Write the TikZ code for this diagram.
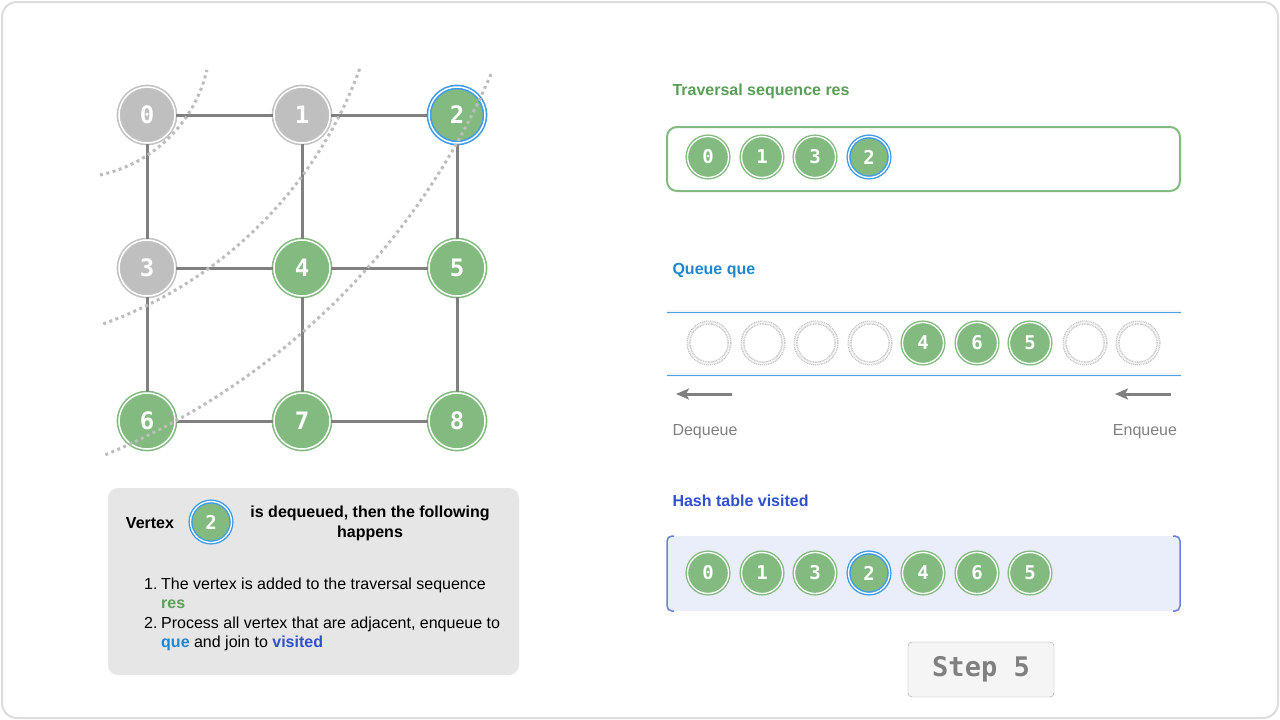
\documentclass[tikz,border=0pt]{standalone}
\usepackage{fontspec}
\setmainfont{Liberation Sans}
\newfontfamily\monof{DejaVu Sans Mono}
\usetikzlibrary{arrows.meta}
\definecolor{gfill}{HTML}{82BA80}
\definecolor{grayfill}{HTML}{BFBFBF}
\definecolor{grayring}{HTML}{C2C2C2}
\definecolor{bring}{HTML}{3D9BE9}
\definecolor{edgec}{HTML}{808080}
\definecolor{arcc}{HTML}{BDBDBD}
\definecolor{resc}{HTML}{5A9E58}
\definecolor{quec}{HTML}{1F86D0}
\definecolor{quel}{HTML}{4AA3EA}
\definecolor{visc}{HTML}{3050D0}
\definecolor{visfill}{HTML}{EAEEFA}
\definecolor{visline}{HTML}{6B82DA}
\definecolor{boxfill}{HTML}{E6E6E6}
\definecolor{framec}{HTML}{DDDDDD}
\begin{document}
\begin{tikzpicture}[x=1pt,y=-1pt,
  big/.style={circle, minimum size=56pt, inner sep=0pt, line width=1.6pt, double=white, double distance=1.5pt, text=white, font=\monof\bfseries\fontsize{24}{24}\selectfont},
  small/.style={circle, minimum size=41pt, inner sep=0pt, line width=1.4pt, double=white, double distance=1.3pt, text=white, font=\monof\bfseries\fontsize{19}{19}\selectfont},
  gv/.style={fill=gfill, draw=gfill},
  yv/.style={fill=grayfill, draw=grayring},
  bv/.style={fill=gfill, draw=bring},
  ev/.style={fill=white, draw=gray!45, dash pattern=on 1pt off 0.8pt},
  edge/.style={draw=edgec, line width=3pt},
  wave/.style={draw=arcc, line width=3pt, dash pattern=on 3pt off 3.5pt},
  title/.style={anchor=west, font=\bfseries\fontsize{16}{19}\selectfont},
  body/.style={anchor=base west, font=\fontsize{16}{19}\selectfont, inner sep=0pt},
  arr/.style={draw=edgec, line width=3pt, -{Stealth[length=13pt,width=11pt,inset=3pt]}},
  qline/.style={draw=quel, line width=1pt}
]
\useasboundingbox (0,0) rectangle (1280,720);
\fill[white] (0,0) rectangle (1280,720);
\draw[framec, line width=2pt, rounded corners=15pt] (2,2) rectangle (1278,718);

% ---------- grid graph ----------
\node[big,yv] (n0) at (147,115) {0};
\node[big,yv] (n1) at (302,115) {1};
\node[big,bv] (n2) at (457,115) {2};
\node[big,yv] (n3) at (147,268) {3};
\node[big,gv] (n4) at (302,268) {4};
\node[big,gv] (n5) at (457,268) {5};
\node[big,gv] (n6) at (147,421) {6};
\node[big,gv] (n7) at (302,421) {7};
\node[big,gv] (n8) at (457,421) {8};
\foreach \a/\b in {n0/n1,n1/n2,n0/n3,n1/n4,n2/n5,n3/n4,n4/n5,n3/n6,n4/n7,n5/n8,n6/n7,n7/n8}
  \draw[edge] (\a) -- (\b);
\draw[wave] plot[domain=78:13, samples=50] ({71+139.5*cos(\x)},{38.5+139.5*sin(\x)});
\draw[wave] plot[domain=70.3:19.9, samples=70] ({-40.2+425.6*cos(\x)},{-76.8+425.6*sin(\x)});
\draw[wave] plot[domain=67.4:23.2, samples=90] ({-172.3+722.5*cos(\x)},{-212.2+722.5*sin(\x)});

% ---------- explanation box ----------
\node[fill=boxfill, rounded corners=10pt, minimum width=411pt, minimum height=187pt, inner sep=0pt] (exp) at (313.5,581.5) {};
\node[title, anchor=center] (vtxt) at (150,523) {Vertex};
\node[small,bv] (ev2) at (211,522) {2};
\node[font=\bfseries\fontsize{16}{20}\selectfont, align=center] (deq) at (370,523) {is dequeued, then the following\\happens};
\node[body] (l1n) at (144,589) {1.};
\node[body] (l1a) at (161,589) {The vertex is added to the traversal sequence};
\node[body, text=resc, font=\bfseries\fontsize{16}{19}\selectfont] (l1b) at (161,608) {res};
\node[body] (l2n) at (144,628) {2.};
\node[body] (l2a) at (161,628) {Process all vertex that are adjacent, enqueue to};
\node[body] (l2b) at (161,647) {\textcolor{quec}{\bfseries que} and join to \textcolor{visc}{\bfseries visited}};

% ---------- traversal sequence ----------
\node[title, text=resc] (tres) at (669,91) {Traversal sequence res};
\draw[gfill, line width=2pt, rounded corners=10pt] (667,127) rectangle (1180,191);
\node[small,gv] (r0) at (708,157) {0};
\node[small,gv] (r1) at (762,157) {1};
\node[small,gv] (r2) at (815,157) {3};
\node[small,bv] (r3) at (869,157) {2};

% ---------- queue ----------
\node[title, text=quec] (tque) at (669,271) {Queue que};
\draw[black, opacity=0.04, line width=4pt] (667,312) -- (1181,312);
\draw[black, opacity=0.04, line width=4pt] (667,375) -- (1181,375);
\draw[qline] (667,312) -- (1181,312);
\draw[qline] (667,375) -- (1181,375);
\node[small,ev] (q0) at (709,343) {};
\node[small,ev] (q1) at (763,343) {};
\node[small,ev] (q2) at (816,343) {};
\node[small,ev] (q3) at (870,343) {};
\node[small,gv] (q4) at (923,343) {4};
\node[small,gv] (q5) at (977,343) {6};
\node[small,gv] (q6) at (1030,343) {5};
\node[small,ev] (q7) at (1085,343) {};
\node[small,ev] (q8) at (1138,343) {};
\coordinate (da) at (732,394);
\coordinate (db) at (676,394);
\coordinate (ea) at (1171,394);
\coordinate (eb) at (1115,394);
\draw[arr] (da) -- (db);
\draw[arr] (ea) -- (eb);
\node[text=edgec, font=\fontsize{16}{19}\selectfont] (dql) at (705,432) {Dequeue};
\node[text=edgec, font=\fontsize{16}{19}\selectfont] (eql) at (1145,432) {Enqueue};

% ---------- visited ----------
\node[title, text=visc] (tvis) at (669,501) {Hash table visited};
\fill[visfill] (667,536) rectangle (1180,611);
\draw[visline, line width=1.5pt, rounded corners=5pt] (674,536) -- (667,536) -- (667,611) -- (674,611);
\draw[visline, line width=1.5pt, rounded corners=5pt] (1173,536) -- (1180,536) -- (1180,611) -- (1173,611);
\node[small,gv] (v0) at (708,573) {0};
\node[small,gv] (v1) at (762,573) {1};
\node[small,gv] (v2) at (815,573) {3};
\node[small,bv] (v3) at (869,573) {2};
\node[small,gv] (v4) at (923,573) {4};
\node[small,gv] (v5) at (977,573) {6};
\node[small,gv] (v6) at (1030,573) {5};

% ---------- step ----------
\node[draw=gray!70, fill=gray!8, rounded corners=4pt, minimum width=146pt, minimum height=55pt, text=edgec, font=\monof\bfseries\fontsize{27}{27}\selectfont] (step) at (981,669.5) {Step 5};
\end{tikzpicture}
\end{document}
